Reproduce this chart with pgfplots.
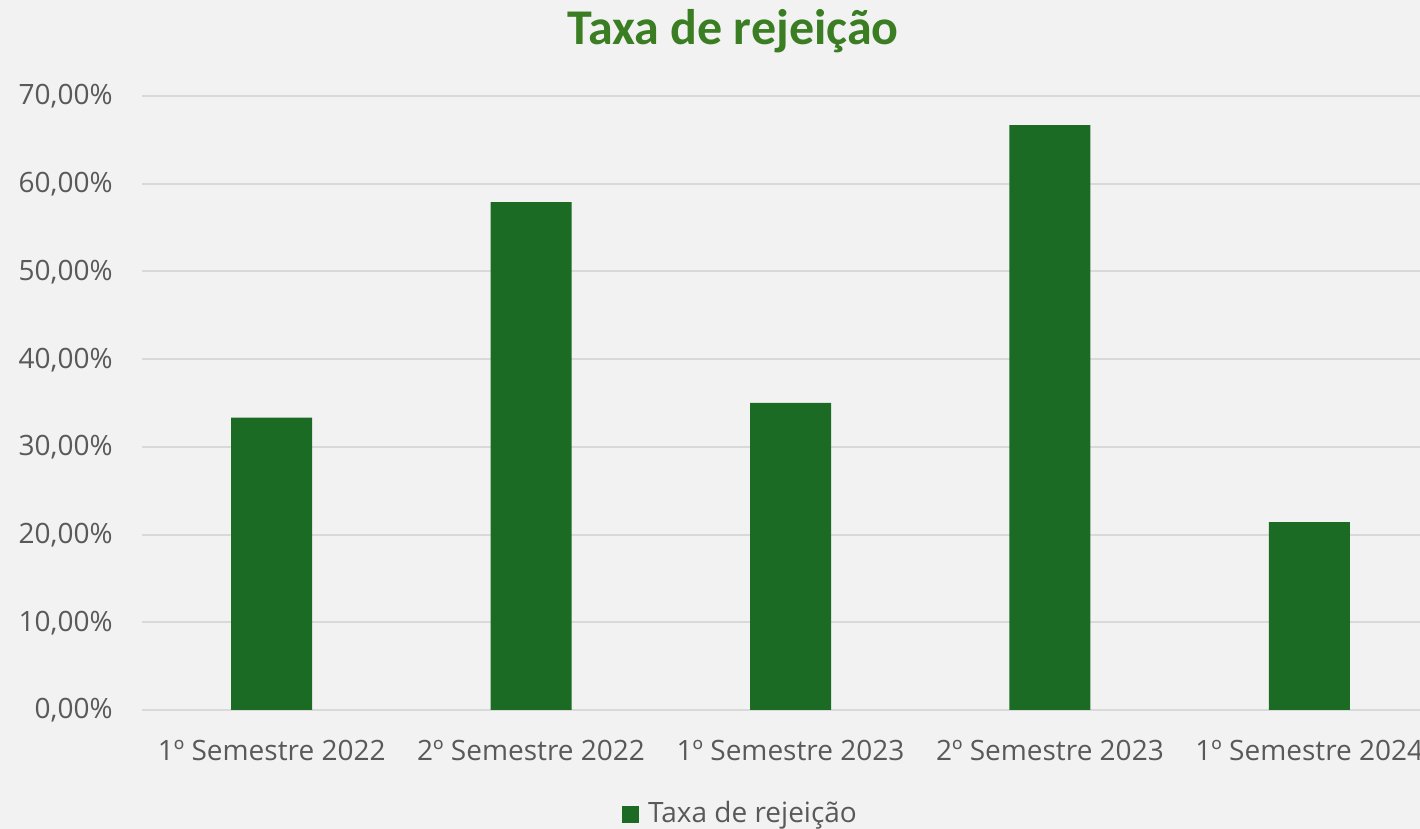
\documentclass[border=0pt]{standalone}
\usepackage{pgfplots}
\pgfplotsset{compat=1.18}
\usepackage{fontspec}
\setmainfont{Open Sans}
\newfontfamily\titlefont{Carlito}
\definecolor{bg}{HTML}{F2F2F2}
\definecolor{barc}{HTML}{1B6B24}
\definecolor{titc}{HTML}{3A7D22}
\definecolor{txtc}{HTML}{595959}
\definecolor{gridc}{HTML}{D9D9D9}
\begin{document}
\begin{tikzpicture}[x=0.5pt,y=0.5pt]
\useasboundingbox (0,0) rectangle (1420,829);
\fill[bg] (0,0) rectangle (1420,829);
\node[anchor=base, text=titc, font=\titlefont\bfseries\fontsize{25pt}{30pt}\selectfont, inner sep=0pt] at (733,784) {Taxa de rejeição};
\begin{axis}[
  at={(71pt,59.5pt)}, anchor=south west,
  scale only axis, width=648.5pt, height=307pt,
  xmin=-0.5, xmax=4.5, ymin=0, ymax=70,
  ytick={0,10,...,70},
  xtick={0,1,2,3,4},
  xticklabels={1º Semestre 2022,2º Semestre 2022,1º Semestre 2023,2º Semestre 2023,1º Semestre 2024},
  axis line style={draw=none},
  major tick style={draw=none},
  ymajorgrids, grid style={gridc, line width=1pt},
  extra y ticks={0}, extra y tick labels={},
  extra y tick style={grid style={gridc, line width=1.2pt}},
  /pgf/number format/assume math mode=true,
  yticklabel={\pgfmathprintnumber[fixed,fixed zerofill,precision=2,use comma]{\tick}\%},
  ticklabel style={font=\fontsize{14pt}{17pt}\selectfont, text=txtc},
  yticklabel style={anchor=base east, inner sep=0pt, xshift=-14.5pt, yshift=-4.5pt},
  xticklabel style={anchor=base, inner sep=0pt, yshift=-21pt},
  ybar, bar width=40.5pt,
  legend style={at={(axis description cs:0.4607,-0.169)}, anchor=center, draw=none, fill=none, font=\fontsize{14pt}{17pt}\selectfont, text=txtc, inner sep=0pt, nodes={inner sep=0pt}},
  legend image code/.code={\fill[barc] (0pt,-4.5pt) rectangle (8.5pt,4pt);},
]
\addplot[fill=barc, draw=none] coordinates {(0,33.33) (1,57.89) (2,35.00) (3,66.67) (4,21.43)};
\addlegendentry{\hspace{4.5pt}Taxa de rejeição}
\end{axis}
\end{tikzpicture}
\end{document}
